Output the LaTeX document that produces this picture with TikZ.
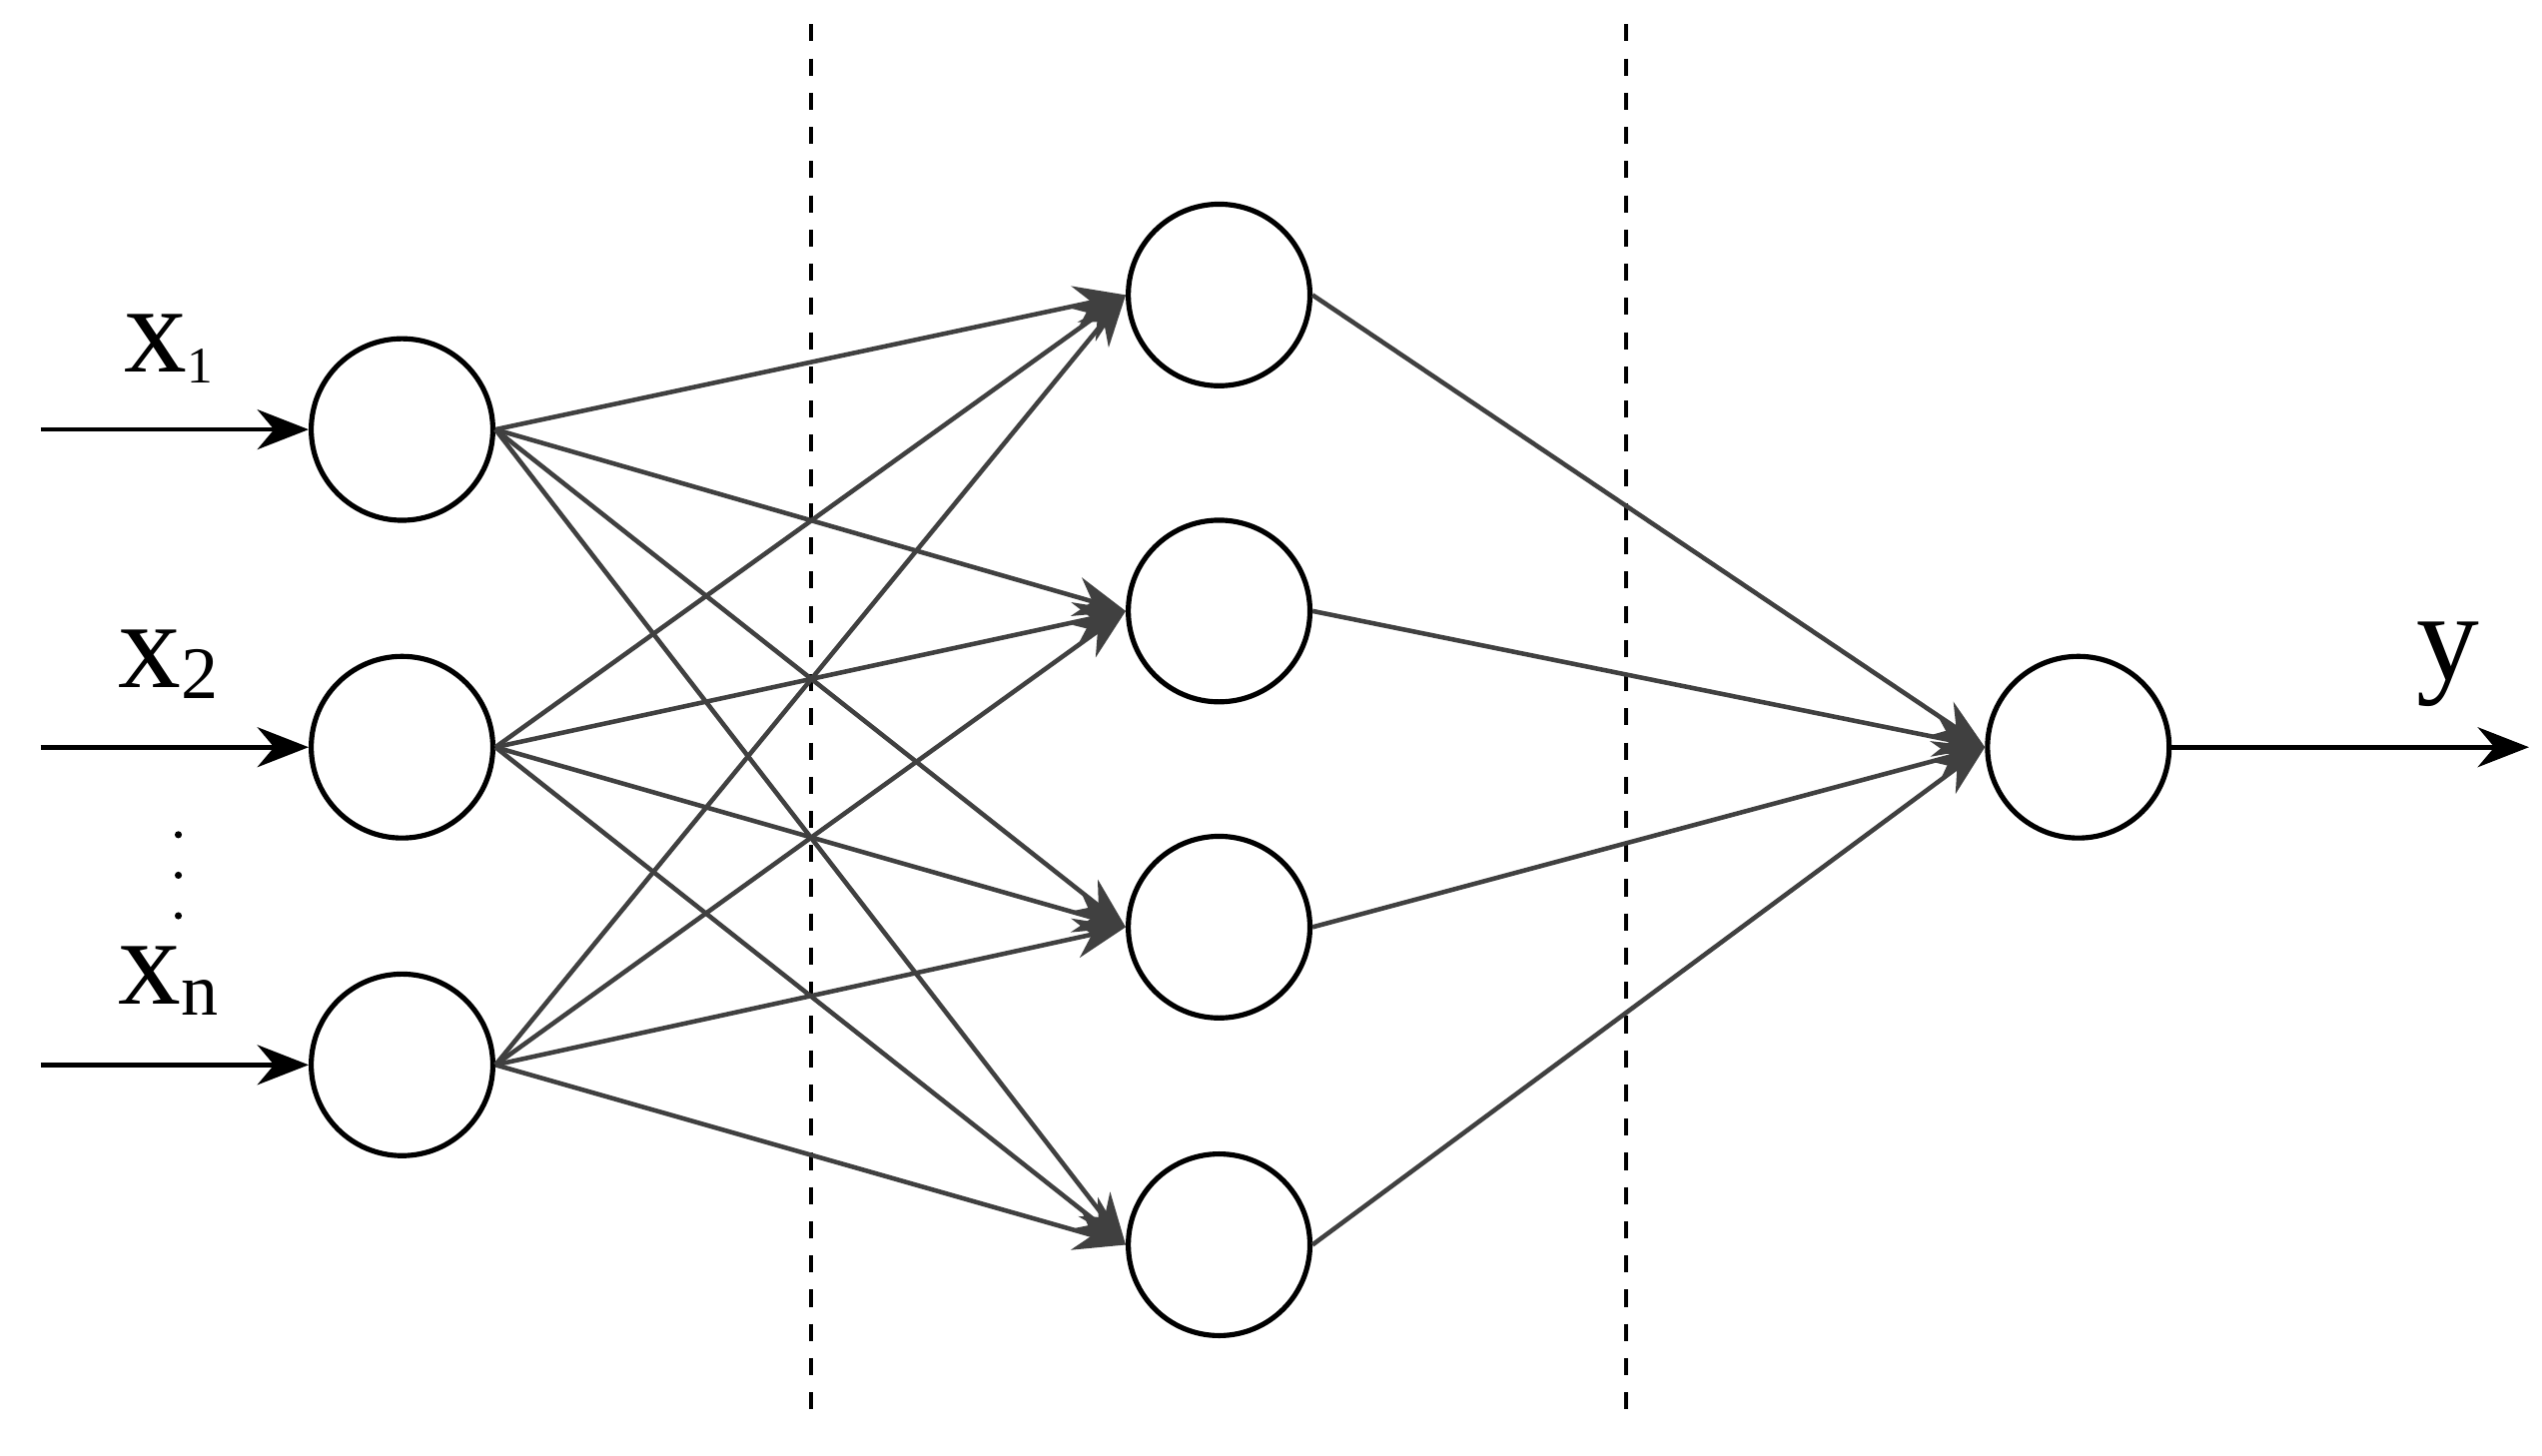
\documentclass[tikz,border=0pt]{standalone}
\usepackage{fontspec}
\newfontfamily\tnr{Liberation Serif}
\usetikzlibrary{arrows.meta}
\begin{document}
\begin{tikzpicture}[x=0.01cm,y=-0.01cm,
  neuron/.style={circle,draw,line width=0.9pt,minimum size=1.12cm,inner sep=0pt},
  edge/.style={draw=black!75,line width=0.8pt,-{Stealth[length=9pt,width=7pt]}},
  lbl/.style={font=\tnr\fontsize{22}{24}\selectfont,inner sep=0pt}]
\useasboundingbox (0,0) rectangle (1568,898);
\draw[dashed,line width=0.7pt] (500,15) -- (500,880);
\draw[dashed,line width=0.7pt] (1003,15) -- (1003,880);
\node[neuron] (i1) at (248,265) {};
\node[neuron] (i2) at (248,461) {};
\node[neuron] (i3) at (248,657) {};
\node[neuron] (h1) at (752,182) {};
\node[neuron] (h2) at (752,377) {};
\node[neuron] (h3) at (752,572) {};
\node[neuron] (h4) at (752,768) {};
\node[neuron] (o) at (1282,461) {};
\coordinate (s1) at (25,265);
\coordinate (s2) at (25,461);
\coordinate (s3) at (25,657);
\coordinate (e) at (1560,461);
\foreach \i in {1,2,3} \draw[edge,draw=black] (s\i) -- (i\i);
\draw[edge,draw=black] (o) -- (e);
\foreach \i in {1,2,3} \foreach \h in {1,2,3,4} \draw[edge] (i\i.east) -- (h\h.west);
\foreach \h in {1,2,3,4} \draw[edge] (h\h.east) -- (o.west);
\node[lbl] (l1) at (104,215) {x\raisebox{-2pt}{\fontsize{9}{10}\selectfont 1}};
\node[lbl] (l2) at (104,410) {x\raisebox{-2pt}{\fontsize{13}{14}\selectfont 2}};
\node[lbl] (l3) at (104,605) {x\raisebox{-2pt}{\fontsize{13}{14}\selectfont n}};
\node[lbl] (ly) at (1510,410) {y};
\foreach \yy in {515,540,565} \fill (110,\yy) circle (2.2);
\end{tikzpicture}
\end{document}
